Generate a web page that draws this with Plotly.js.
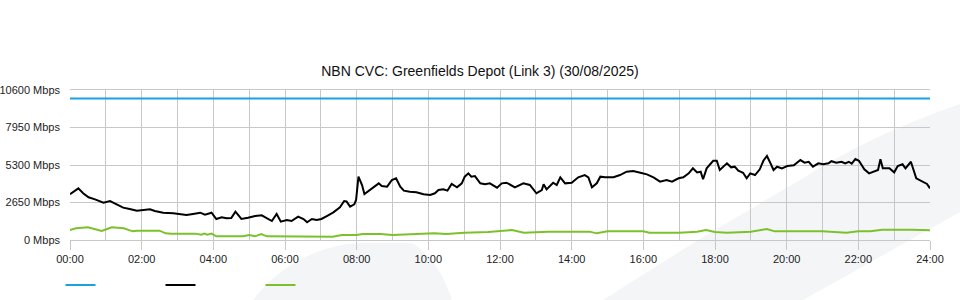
<!DOCTYPE html>
<html>
<head>
<meta charset="utf-8">
<script src="https://cdn.plot.ly/plotly-3.0.1.min.js"></script>
<style>
html,body{margin:0;padding:0;background:#fff;}
#wrap{position:relative;width:960px;height:300px;overflow:hidden;}
#bg{position:absolute;left:0;top:0;}
#chart{position:absolute;left:0;top:0;width:960px;height:300px;}
</style>
</head>
<body>
<div id="wrap">
<svg id="bg" width="960" height="300">
  <path d="M253,300 C275,270 315,245 360,243 L412,243 C430,255 442,270 452,300 Z" fill="#f4f5f7"/>
  <path d="M603,300 L698,240 L800,180 Q870,135 960,104 L960,212 L910,240 L803,300 Z" fill="#f4f5f7"/>
</svg>
<div id="chart"></div>
</div>
<script>
var titleText = "NBN CVC: Greenfields Depot (Link 3) (30/08/2025)";
var tickHours = [0,2,4,6,8,10,12,14,16,18,20,22,24];
var tickLabels = ["00:00","02:00","04:00","06:00","08:00","10:00","12:00","14:00","16:00","18:00","20:00","22:00","24:00"];
var yTicks = [0,2650,5300,7950,10600];
var yLabels = ["0 Mbps","2650 Mbps","5300 Mbps","7950 Mbps","10600 Mbps"];

var capTimes = ["00:00","24:00"];
var capValues = [10000,10000];

var inTimes = ["00:00","00:14","00:22","00:31","00:42","00:56","01:07","01:18","01:29","01:40","01:52","02:03","02:14","02:22","02:36","02:53","03:04","03:15","03:26","03:38","03:46","03:57","04:05","04:14","04:22","04:30","04:37","04:47","04:58","05:10","05:21","05:29","05:38","05:46","05:53","06:03","06:11","06:22","06:31","06:37","06:45","06:53","07:01","07:10","07:21","07:32","07:39","07:43","07:49","07:56","07:59","08:03","08:09","08:13","08:20","08:28","08:37","08:42","08:51","08:59","09:06","09:13","09:19","09:29","09:40","09:52","10:03","10:11","10:17","10:25","10:32","10:39","10:48","10:56","11:01","11:07","11:12","11:18","11:27","11:35","11:43","11:55","12:03","12:11","12:25","12:39","12:50","13:01","13:10","13:13","13:18","13:29","13:35","13:41","13:49","14:00","14:11","14:22","14:28","14:34","14:42","14:48","14:56","15:10","15:21","15:32","15:43","15:55","16:06","16:17","16:28","16:39","16:48","16:59","17:07","17:16","17:23","17:30","17:36","17:40","17:46","17:57","18:03","18:08","18:20","18:27","18:33","18:39","18:47","18:53","18:59","19:07","19:15","19:21","19:27","19:33","19:38","19:44","19:52","20:01","20:12","20:23","20:30","20:37","20:44","20:53","21:01","21:10","21:15","21:23","21:32","21:38","21:44","21:49","21:55","22:01","22:10","22:18","22:27","22:33","22:37","22:41","22:52","23:00","23:06","23:14","23:19","23:28","23:37","23:44","23:55","24:00"];
var inValues = [3230,3650,3300,3015,2875,2640,2755,2520,2285,2190,2070,2120,2165,2050,1930,1885,1840,1765,1840,1930,1790,1930,1485,1600,1530,1555,2000,1485,1577,1695,1742,1577,1343,1840,1295,1413,1343,1647,1485,1250,1485,1413,1485,1695,1955,2310,2755,2720,2355,2520,2827,4475,3887,3250,3485,3770,4005,3815,3770,4240,4360,3770,3485,3415,3370,3230,3180,3300,3535,3580,3485,3960,3720,4005,4475,4710,4475,4520,4005,3935,4005,3700,4005,4050,3720,4005,3887,3300,3535,3935,3580,4050,3887,4430,4005,4050,4430,4590,4430,3720,4005,4475,4430,4430,4590,4825,4870,4755,4640,4430,4120,4240,4120,4360,4430,4710,5065,4780,4825,4290,5065,5600,5600,4950,5420,5135,5180,4900,4755,4360,4710,4590,4995,5600,5935,5420,4945,5180,5065,5230,5280,5650,5465,5530,5180,5420,5350,5420,5570,5465,5530,5420,5530,5400,5725,5600,4995,4710,4870,4950,5700,5065,5065,4780,5230,5350,5065,5530,4360,4190,3960,3650];

var outTimes = ["00:00","00:10","00:30","00:42","00:53","01:02","01:10","01:30","01:37","01:45","01:52","02:30","02:40","02:50","03:30","03:40","03:45","03:50","03:57","04:05","04:50","05:00","05:10","05:20","05:30","06:00","06:40","07:20","07:35","08:00","08:10","08:40","09:00","09:30","10:10","10:30","11:00","11:40","12:00","12:20","12:40","13:20","14:30","14:42","15:00","16:00","16:10","17:00","17:30","17:45","18:00","18:20","19:00","19:27","19:40","21:00","21:40","22:00","22:20","22:40","23:30","23:45","24:00"];
var outValues = [707,825,895,777,636,777,895,825,707,612,660,660,471,450,450,377,450,377,450,260,260,353,260,424,260,260,235,235,353,353,424,424,353,424,470,424,520,565,660,706,518,590,590,470,614,614,518,518,590,706,565,518,590,777,612,612,518,612,612,730,730,684,684];

function toHours(arr){return arr.map(function(t){var p=t.split(":");return +p[0]+(+p[1])/60;});}

var traces = [
  {x:toHours(capTimes), y:capValues, type:"scatter", mode:"lines", name:" ", line:{color:"#1aa1e1", width:2}, hoverinfo:"skip"},
  {x:toHours(inTimes), y:inValues, type:"scatter", mode:"lines", name:" ", line:{color:"#000000", width:2}},
  {x:toHours(outTimes), y:outValues, type:"scatter", mode:"lines", name:" ", line:{color:"#7cc12c", width:2}}
];

var layout = {
  width:960, height:300,
  paper_bgcolor:"rgba(0,0,0,0)", plot_bgcolor:"rgba(0,0,0,0)",
  margin:{l:70, r:30, t:90, b:60, autoexpand:false},
  font:{family:"Liberation Sans, Arial, sans-serif", size:11, color:"#222"},
  title:{text:titleText, font:{size:14, color:"#111"}, xref:"container", x:0.5, xanchor:"center", yref:"container", y:1-71/300, yanchor:"middle"},
  xaxis:{range:[0,24], tickvals:tickHours, ticktext:tickLabels, showgrid:true, gridcolor:"#c8c8c8", gridwidth:1,
         ticks:"outside", ticklen:9, tickcolor:"#c8c8c8", showline:true, linecolor:"#c8c8c8", linewidth:1, mirror:true,
         zeroline:false, fixedrange:true,
         minor:{dtick:1, tick0:0, showgrid:true, gridcolor:"#c8c8c8", gridwidth:1, ticks:""}},
  yaxis:{range:[0,10600], tickvals:yTicks, ticktext:yLabels, showgrid:true, gridcolor:"#c8c8c8", gridwidth:1,
         ticks:"", ticklabelstandoff:9, zeroline:false, showline:false, fixedrange:true},
  showlegend:true,
  legend:{orientation:"h", x:-9.5/860, xanchor:"left", xref:"paper", yref:"container", y:1-285/300, yanchor:"middle", entrywidth:55, entrywidthmode:"pixels", font:{size:11}, bgcolor:"rgba(0,0,0,0)"}
};

Plotly.newPlot("chart", traces, layout, {displayModeBar:false, staticPlot:true});
</script>
</body>
</html>
